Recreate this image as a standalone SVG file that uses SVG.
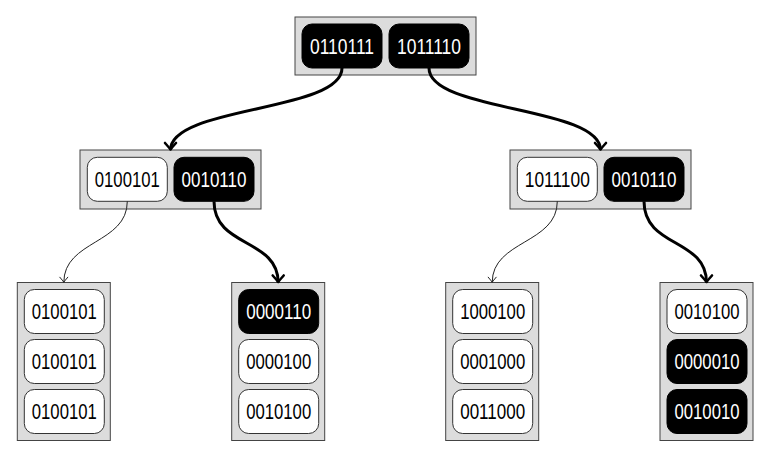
<svg xmlns="http://www.w3.org/2000/svg" width="770" height="458" viewBox="0 0 770 458">
<style>
.box{fill:#dcdcdc;stroke:#444;stroke-width:1}
.w{fill:#fff;stroke:#333;stroke-width:1}
.b{fill:#000;stroke:#000;stroke-width:1}
text{font-family:"Liberation Sans",Arial,sans-serif;font-size:22px;text-anchor:middle}
.tw{fill:#000}
.tb{fill:#fff}
.thick{fill:none;stroke:#000;stroke-width:3}
.thin{fill:none;stroke:#222;stroke-width:1}
</style>
<defs>
<marker id="ah" markerUnits="userSpaceOnUse" viewBox="-10 -8 12 16" markerWidth="12" markerHeight="16" refX="0.5" refY="0" orient="auto" overflow="visible">
<path d="M-6.5,-5.5 Q-2,-1.5 0,0 Q-2,1.5 -6.5,5.5" fill="none" stroke="#000" stroke-width="2.6" stroke-linecap="round" stroke-linejoin="round"/>
</marker>
<marker id="ahs" markerUnits="userSpaceOnUse" viewBox="-10 -8 12 16" markerWidth="12" markerHeight="16" refX="0.3" refY="0" orient="auto" overflow="visible">
<path d="M-5,-4 Q-1.5,-1 0,0 Q-1.5,1 -5,4" fill="none" stroke="#222" stroke-width="1" stroke-linecap="round"/>
</marker>
</defs>

<g id="root">
<rect class="box" x="295" y="17" width="181" height="58"/>
<rect class="b" x="302" y="24" width="80" height="44" rx="10"/>
<text class="tb" x="342" y="53.8" textLength="64" lengthAdjust="spacingAndGlyphs">0110111</text>
<rect class="b" x="389" y="24" width="80" height="44" rx="10"/>
<text class="tb" x="429" y="53.8" textLength="64" lengthAdjust="spacingAndGlyphs">1011110</text>
</g>

<g id="midL">
<rect class="box" x="80" y="150" width="181" height="59"/>
<rect class="w" x="87.3" y="157.3" width="80" height="44" rx="10"/>
<text class="tw" x="127.3" y="187.3" textLength="65" lengthAdjust="spacingAndGlyphs">0100101</text>
<rect class="b" x="174" y="157.3" width="80" height="44" rx="10"/>
<text class="tb" x="214" y="187.3" textLength="65" lengthAdjust="spacingAndGlyphs">0010110</text>
</g>

<g id="midR">
<rect class="box" x="510" y="150" width="181" height="59"/>
<rect class="w" x="517.3" y="157.3" width="80" height="44" rx="10"/>
<text class="tw" x="557.3" y="187.3" textLength="65" lengthAdjust="spacingAndGlyphs">1011100</text>
<rect class="b" x="604" y="157.3" width="80" height="44" rx="10"/>
<text class="tb" x="644" y="187.3" textLength="65" lengthAdjust="spacingAndGlyphs">0010110</text>
</g>

<g id="leaf1">
<rect class="box" x="17.3" y="282.5" width="93" height="158"/>
<rect class="w" x="24.3" y="289.5" width="80" height="44" rx="10"/>
<text class="tw" x="64.3" y="319.3" textLength="65" lengthAdjust="spacingAndGlyphs">0100101</text>
<rect class="w" x="24.3" y="339.5" width="80" height="44" rx="10"/>
<text class="tw" x="64.3" y="369.3" textLength="65" lengthAdjust="spacingAndGlyphs">0100101</text>
<rect class="w" x="24.3" y="389.5" width="80" height="44" rx="10"/>
<text class="tw" x="64.3" y="419.3" textLength="65" lengthAdjust="spacingAndGlyphs">0100101</text>
</g>

<g id="leaf2">
<rect class="box" x="231.7" y="282.5" width="93" height="158"/>
<rect class="b" x="238.7" y="289.5" width="80" height="44" rx="10"/>
<text class="tb" x="278.7" y="319.3" textLength="65" lengthAdjust="spacingAndGlyphs">0000110</text>
<rect class="w" x="238.7" y="339.5" width="80" height="44" rx="10"/>
<text class="tw" x="278.7" y="369.3" textLength="65" lengthAdjust="spacingAndGlyphs">0000100</text>
<rect class="w" x="238.7" y="389.5" width="80" height="44" rx="10"/>
<text class="tw" x="278.7" y="419.3" textLength="65" lengthAdjust="spacingAndGlyphs">0010100</text>
</g>

<g id="leaf3">
<rect class="box" x="445.7" y="282.5" width="93" height="158"/>
<rect class="w" x="452.7" y="289.5" width="80" height="44" rx="10"/>
<text class="tw" x="492.7" y="319.3" textLength="65" lengthAdjust="spacingAndGlyphs">1000100</text>
<rect class="w" x="452.7" y="339.5" width="80" height="44" rx="10"/>
<text class="tw" x="492.7" y="369.3" textLength="65" lengthAdjust="spacingAndGlyphs">0001000</text>
<rect class="w" x="452.7" y="389.5" width="80" height="44" rx="10"/>
<text class="tw" x="492.7" y="419.3" textLength="65" lengthAdjust="spacingAndGlyphs">0011000</text>
</g>

<g id="leaf4">
<rect class="box" x="660" y="282.5" width="93" height="158"/>
<rect class="w" x="667" y="289.5" width="80" height="44" rx="10"/>
<text class="tw" x="707" y="319.3" textLength="65" lengthAdjust="spacingAndGlyphs">0010100</text>
<rect class="b" x="667" y="339.5" width="80" height="44" rx="10"/>
<text class="tb" x="707" y="369.3" textLength="65" lengthAdjust="spacingAndGlyphs">0000010</text>
<rect class="b" x="667" y="389.5" width="80" height="44" rx="10"/>
<text class="tb" x="707" y="419.3" textLength="65" lengthAdjust="spacingAndGlyphs">0010010</text>
</g>

<g id="connectors">
<path class="thick" marker-end="url(#ah)" d="M342,68 C342,112 170.5,106 170.5,150"/>
<path class="thick" marker-end="url(#ah)" d="M429,68 C429,112 600.5,106 600.5,150"/>
<path class="thin" marker-end="url(#ahs)" d="M127.3,201.3 C127.3,244 63.8,240 63.8,282.5"/>
<path class="thick" marker-end="url(#ah)" d="M214,201.3 C214,248 278.2,238 278.2,282.5"/>
<path class="thin" marker-end="url(#ahs)" d="M557.3,201.3 C557.3,244 492.2,240 492.2,282.5"/>
<path class="thick" marker-end="url(#ah)" d="M644,201.3 C644,248 706.5,238 706.5,282.5"/>
</g>
</svg>
